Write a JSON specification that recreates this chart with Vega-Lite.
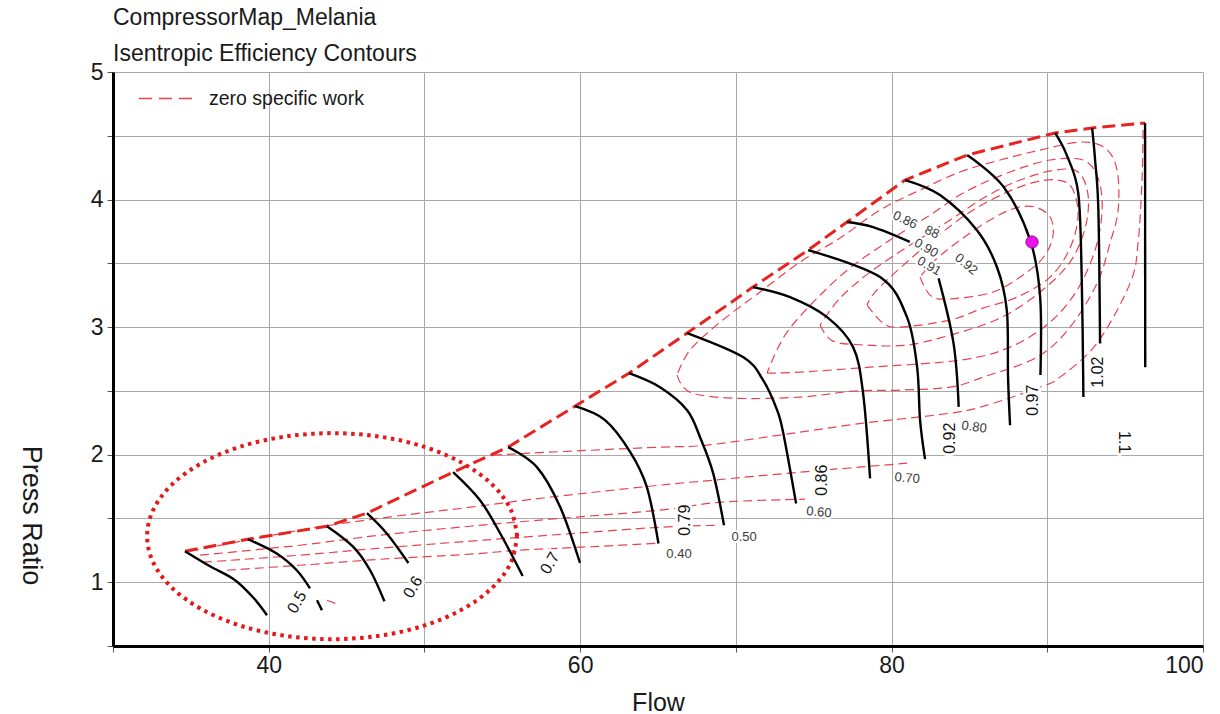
{
  "$schema": "https://vega.github.io/schema/vega-lite/v6.json",
  "width": 1090,
  "height": 574,
  "autosize": {"type": "none"},
  "padding": {"left": 113, "top": 72, "right": 17, "bottom": 68},
  "background": "white",
  "config": {"view": {"stroke": null}},
  "title": {
    "text": "CompressorMap_Melania",
    "subtitle": "Isentropic Efficiency Contours",
    "anchor": "start",
    "frame": "group",
    "font": "Liberation Sans",
    "fontSize": 23,
    "fontWeight": "normal",
    "color": "#1a1a1a",
    "subtitleFont": "Liberation Sans",
    "subtitleFontSize": 23,
    "subtitleColor": "#1a1a1a",
    "subtitlePadding": 13,
    "offset": -5
  },
  "datasets": {
    "surge": [
      {"i": 0, "x": 34.62, "y": 1.243}, {"i": 1, "x": 38.67, "y": 1.337}, {"i": 2, "x": 43.74, "y": 1.439},
      {"i": 3, "x": 46.31, "y": 1.541}, {"i": 4, "x": 51.84, "y": 1.863}, {"i": 5, "x": 55.37, "y": 2.059},
      {"i": 6, "x": 59.67, "y": 2.380}, {"i": 7, "x": 63.14, "y": 2.639}, {"i": 8, "x": 66.87, "y": 2.953},
      {"i": 9, "x": 71.10, "y": 3.314}, {"i": 10, "x": 74.64, "y": 3.604}, {"i": 11, "x": 77.14, "y": 3.824},
      {"i": 12, "x": 80.87, "y": 4.153}, {"i": 13, "x": 84.85, "y": 4.349}, {"i": 14, "x": 90.50, "y": 4.522},
      {"i": 15, "x": 92.88, "y": 4.561}, {"i": 16, "x": 96.28, "y": 4.600}
    ],
    "speed": [
      {"s": "A", "i": 0, "x": 34.62, "y": 1.243}, {"s": "A", "i": 1, "x": 36.23, "y": 1.125}, {"s": "A", "i": 2, "x": 37.80, "y": 1.020}, {"s": "A", "i": 3, "x": 38.99, "y": 0.882}, {"s": "A", "i": 4, "x": 39.89, "y": 0.741},
      {"s": "B", "i": 0, "x": 38.67, "y": 1.337}, {"s": "B", "i": 1, "x": 40.51, "y": 1.225}, {"s": "B", "i": 2, "x": 41.80, "y": 1.094}, {"s": "B", "i": 3, "x": 42.65, "y": 0.951},
      {"s": "S", "i": 0, "x": 43.10, "y": 0.859}, {"s": "S", "i": 1, "x": 43.42, "y": 0.780},
      {"s": "C", "i": 0, "x": 43.74, "y": 1.439}, {"s": "C", "i": 1, "x": 45.43, "y": 1.277}, {"s": "C", "i": 2, "x": 46.51, "y": 1.094}, {"s": "C", "i": 3, "x": 47.43, "y": 0.851},
      {"s": "D", "i": 0, "x": 46.31, "y": 1.541}, {"s": "D", "i": 1, "x": 47.58, "y": 1.382}, {"s": "D", "i": 2, "x": 48.97, "y": 1.151},
      {"s": "E", "i": 0, "x": 51.84, "y": 1.863}, {"s": "E", "i": 1, "x": 53.57, "y": 1.643}, {"s": "E", "i": 2, "x": 54.86, "y": 1.384}, {"s": "E", "i": 3, "x": 56.31, "y": 1.049},
      {"s": "F", "i": 0, "x": 55.37, "y": 2.059}, {"s": "F", "i": 1, "x": 57.21, "y": 1.904}, {"s": "F", "i": 2, "x": 58.71, "y": 1.591}, {"s": "F", "i": 3, "x": 59.99, "y": 1.151},
      {"s": "G", "i": 0, "x": 59.67, "y": 2.380}, {"s": "G", "i": 1, "x": 61.60, "y": 2.271}, {"s": "G", "i": 2, "x": 63.21, "y": 2.022}, {"s": "G", "i": 3, "x": 64.28, "y": 1.747}, {"s": "G", "i": 4, "x": 65.03, "y": 1.304},
      {"s": "H", "i": 0, "x": 63.14, "y": 2.639}, {"s": "H", "i": 1, "x": 65.13, "y": 2.529}, {"s": "H", "i": 2, "x": 66.87, "y": 2.349}, {"s": "H", "i": 3, "x": 67.70, "y": 2.137}, {"s": "H", "i": 4, "x": 68.54, "y": 1.855}, {"s": "H", "i": 5, "x": 69.24, "y": 1.447},
      {"s": "I", "i": 0, "x": 66.87, "y": 2.953}, {"s": "I", "i": 1, "x": 70.46, "y": 2.765}, {"s": "I", "i": 2, "x": 71.75, "y": 2.584}, {"s": "I", "i": 3, "x": 72.65, "y": 2.349}, {"s": "I", "i": 4, "x": 73.05, "y": 2.166}, {"s": "I", "i": 5, "x": 73.87, "y": 1.617},
      {"s": "J", "i": 0, "x": 71.10, "y": 3.314}, {"s": "J", "i": 1, "x": 73.48, "y": 3.235}, {"s": "J", "i": 2, "x": 75.86, "y": 3.078}, {"s": "J", "i": 3, "x": 77.53, "y": 2.843}, {"s": "J", "i": 4, "x": 78.17, "y": 2.482}, {"s": "J", "i": 5, "x": 78.62, "y": 1.814},
      {"s": "K", "i": 0, "x": 74.64, "y": 3.604}, {"s": "K", "i": 1, "x": 79.26, "y": 3.392}, {"s": "K", "i": 2, "x": 80.99, "y": 3.078}, {"s": "K", "i": 3, "x": 81.64, "y": 2.686}, {"s": "K", "i": 4, "x": 81.83, "y": 2.271}, {"s": "K", "i": 5, "x": 82.15, "y": 1.965},
      {"s": "L1", "i": 0, "x": 77.14, "y": 3.824}, {"s": "L1", "i": 1, "x": 78.81, "y": 3.784}, {"s": "L1", "i": 2, "x": 81.17, "y": 3.669},
      {"s": "L2", "i": 0, "x": 83.02, "y": 3.382}, {"s": "L2", "i": 1, "x": 83.98, "y": 2.872}, {"s": "L2", "i": 2, "x": 84.31, "y": 2.375},
      {"s": "M", "i": 0, "x": 80.87, "y": 4.153}, {"s": "M", "i": 1, "x": 83.11, "y": 4.035}, {"s": "M", "i": 2, "x": 85.47, "y": 3.761}, {"s": "M", "i": 3, "x": 86.76, "y": 3.473}, {"s": "M", "i": 4, "x": 87.40, "y": 3.133}, {"s": "M", "i": 5, "x": 87.48, "y": 2.608}, {"s": "M", "i": 6, "x": 87.61, "y": 2.231},
      {"s": "N", "i": 0, "x": 84.85, "y": 4.349}, {"s": "N", "i": 1, "x": 87.19, "y": 4.100}, {"s": "N", "i": 2, "x": 88.90, "y": 3.682}, {"s": "N", "i": 3, "x": 89.54, "y": 3.238}, {"s": "N", "i": 4, "x": 89.56, "y": 2.624},
      {"s": "O", "i": 0, "x": 90.50, "y": 4.522}, {"s": "O", "i": 1, "x": 91.25, "y": 4.348}, {"s": "O", "i": 2, "x": 91.99, "y": 4.049}, {"s": "O", "i": 3, "x": 92.21, "y": 3.394}, {"s": "O", "i": 4, "x": 92.32, "y": 2.452},
      {"s": "P", "i": 0, "x": 92.88, "y": 4.561}, {"s": "P", "i": 1, "x": 93.07, "y": 4.310}, {"s": "P", "i": 2, "x": 93.28, "y": 3.918}, {"s": "P", "i": 3, "x": 93.39, "y": 2.872},
      {"s": "Q", "i": 0, "x": 96.28, "y": 4.600}, {"s": "Q", "i": 1, "x": 96.29, "y": 2.686}
    ],
    "eff": [
      {"c": "E30", "i": 0, "x": 43.74, "y": 0.859}, {"c": "E30", "i": 1, "x": 44.58, "y": 0.820},
      {"c": "E40", "i": 0, "x": 37.32, "y": 1.094}, {"c": "E40", "i": 1, "x": 42.01, "y": 1.133}, {"c": "E40", "i": 2, "x": 47.15, "y": 1.180}, {"c": "E40", "i": 3, "x": 52.93, "y": 1.220}, {"c": "E40", "i": 4, "x": 56.14, "y": 1.251}, {"c": "E40", "i": 5, "x": 61.28, "y": 1.282}, {"c": "E40", "i": 6, "x": 65.13, "y": 1.306},
      {"c": "E50", "i": 0, "x": 35.78, "y": 1.157}, {"c": "E50", "i": 1, "x": 42.01, "y": 1.212}, {"c": "E50", "i": 2, "x": 47.15, "y": 1.267}, {"c": "E50", "i": 3, "x": 52.93, "y": 1.322}, {"c": "E50", "i": 4, "x": 58.07, "y": 1.369}, {"c": "E50", "i": 5, "x": 65.13, "y": 1.431}, {"c": "E50", "i": 6, "x": 68.99, "y": 1.447},
      {"c": "E60", "i": 0, "x": 35.59, "y": 1.212}, {"c": "E60", "i": 1, "x": 42.01, "y": 1.290}, {"c": "E60", "i": 2, "x": 47.15, "y": 1.369}, {"c": "E60", "i": 3, "x": 52.93, "y": 1.439}, {"c": "E60", "i": 4, "x": 58.07, "y": 1.494}, {"c": "E60", "i": 5, "x": 65.13, "y": 1.565}, {"c": "E60", "i": 6, "x": 68.99, "y": 1.627}, {"c": "E60", "i": 7, "x": 74.44, "y": 1.651},
      {"c": "E70", "i": 0, "x": 34.95, "y": 1.243}, {"c": "E70", "i": 1, "x": 42.01, "y": 1.408}, {"c": "E70", "i": 2, "x": 47.15, "y": 1.502}, {"c": "E70", "i": 3, "x": 52.93, "y": 1.588}, {"c": "E70", "i": 4, "x": 58.07, "y": 1.667}, {"c": "E70", "i": 5, "x": 65.13, "y": 1.761}, {"c": "E70", "i": 6, "x": 68.54, "y": 1.800}, {"c": "E70", "i": 7, "x": 74.12, "y": 1.863}, {"c": "E70", "i": 8, "x": 81.00, "y": 1.933},
      {"c": "E80", "i": 0, "x": 54.41, "y": 1.996}, {"c": "E80", "i": 1, "x": 58.07, "y": 2.020}, {"c": "E80", "i": 2, "x": 65.13, "y": 2.059}, {"c": "E80", "i": 3, "x": 68.15, "y": 2.075}, {"c": "E80", "i": 4, "x": 74.12, "y": 2.176}, {"c": "E80", "i": 5, "x": 78.17, "y": 2.247}, {"c": "E80", "i": 6, "x": 83.76, "y": 2.325}, {"c": "E80", "i": 7, "x": 86.13, "y": 2.388}, {"c": "E80", "i": 8, "x": 89.54, "y": 2.529}, {"c": "E80", "i": 9, "x": 90.82, "y": 2.608}, {"c": "E80", "i": 10, "x": 93.20, "y": 2.875}, {"c": "E80", "i": 11, "x": 95.32, "y": 3.345}, {"c": "E80", "i": 12, "x": 95.83, "y": 3.659}, {"c": "E80", "i": 13, "x": 96.09, "y": 4.176}, {"c": "E80", "i": 14, "x": 96.15, "y": 4.584},
      {"c": "E86", "i": 0, "x": 66.22, "y": 2.624}, {"c": "E86", "i": 1, "x": 67.06, "y": 2.490}, {"c": "E86", "i": 2, "x": 69.82, "y": 2.443}, {"c": "E86", "i": 3, "x": 74.12, "y": 2.451}, {"c": "E86", "i": 4, "x": 77.53, "y": 2.498}, {"c": "E86", "i": 5, "x": 80.55, "y": 2.506}, {"c": "E86", "i": 6, "x": 83.76, "y": 2.529}, {"c": "E86", "i": 7, "x": 85.88, "y": 2.608}, {"c": "E86", "i": 8, "x": 89.35, "y": 2.765}, {"c": "E86", "i": 9, "x": 91.46, "y": 3.000}, {"c": "E86", "i": 10, "x": 93.20, "y": 3.345}, {"c": "E86", "i": 11, "x": 94.03, "y": 3.659}, {"c": "E86", "i": 12, "x": 94.55, "y": 3.918}, {"c": "E86", "i": 13, "x": 94.48, "y": 4.231}, {"c": "E86", "i": 14, "x": 93.71, "y": 4.404}, {"c": "E86", "i": 15, "x": 92.11, "y": 4.451}, {"c": "E86", "i": 16, "x": 89.54, "y": 4.388}, {"c": "E86", "i": 17, "x": 86.97, "y": 4.310}, {"c": "E86", "i": 18, "x": 84.40, "y": 4.216}, {"c": "E86", "i": 19, "x": 81.83, "y": 4.075}, {"c": "E86", "i": 20, "x": 79.26, "y": 3.918}, {"c": "E86", "i": 21, "x": 76.69, "y": 3.698}, {"c": "E86", "i": 22, "x": 74.12, "y": 3.510}, {"c": "E86", "i": 23, "x": 71.55, "y": 3.275}, {"c": "E86", "i": 24, "x": 68.99, "y": 3.039}, {"c": "E86", "i": 25, "x": 67.06, "y": 2.820}, {"c": "E86", "i": 26, "x": 66.22, "y": 2.624},
      {"c": "E88", "i": 0, "x": 72.00, "y": 2.639}, {"c": "E88", "i": 1, "x": 74.12, "y": 2.647}, {"c": "E88", "i": 2, "x": 78.62, "y": 2.686}, {"c": "E88", "i": 3, "x": 84.40, "y": 2.741}, {"c": "E88", "i": 4, "x": 87.61, "y": 2.843}, {"c": "E88", "i": 5, "x": 90.18, "y": 3.039}, {"c": "E88", "i": 6, "x": 91.91, "y": 3.290}, {"c": "E88", "i": 7, "x": 93.07, "y": 3.604}, {"c": "E88", "i": 8, "x": 93.52, "y": 3.918}, {"c": "E88", "i": 9, "x": 93.26, "y": 4.169}, {"c": "E88", "i": 10, "x": 92.30, "y": 4.310}, {"c": "E88", "i": 11, "x": 90.18, "y": 4.310}, {"c": "E88", "i": 12, "x": 87.61, "y": 4.216}, {"c": "E88", "i": 13, "x": 84.72, "y": 4.059}, {"c": "E88", "i": 14, "x": 82.47, "y": 3.878}, {"c": "E88", "i": 15, "x": 79.90, "y": 3.682}, {"c": "E88", "i": 16, "x": 77.33, "y": 3.463}, {"c": "E88", "i": 17, "x": 75.09, "y": 3.211}, {"c": "E88", "i": 18, "x": 73.16, "y": 2.937}, {"c": "E88", "i": 19, "x": 72.00, "y": 2.639},
      {"c": "E90", "i": 0, "x": 75.41, "y": 3.016}, {"c": "E90", "i": 1, "x": 76.24, "y": 2.890}, {"c": "E90", "i": 2, "x": 78.43, "y": 2.859}, {"c": "E90", "i": 3, "x": 81.00, "y": 2.859}, {"c": "E90", "i": 4, "x": 83.76, "y": 2.937}, {"c": "E90", "i": 5, "x": 86.97, "y": 3.071}, {"c": "E90", "i": 6, "x": 89.54, "y": 3.275}, {"c": "E90", "i": 7, "x": 91.46, "y": 3.510}, {"c": "E90", "i": 8, "x": 92.43, "y": 3.776}, {"c": "E90", "i": 9, "x": 92.62, "y": 4.035}, {"c": "E90", "i": 10, "x": 91.98, "y": 4.216}, {"c": "E90", "i": 11, "x": 90.50, "y": 4.231}, {"c": "E90", "i": 12, "x": 88.25, "y": 4.153}, {"c": "E90", "i": 13, "x": 86.01, "y": 4.020}, {"c": "E90", "i": 14, "x": 83.76, "y": 3.839}, {"c": "E90", "i": 15, "x": 81.19, "y": 3.643}, {"c": "E90", "i": 16, "x": 78.62, "y": 3.431}, {"c": "E90", "i": 17, "x": 76.69, "y": 3.227}, {"c": "E90", "i": 18, "x": 75.41, "y": 3.016},
      {"c": "E91", "i": 0, "x": 78.43, "y": 3.173}, {"c": "E91", "i": 1, "x": 79.45, "y": 3.031}, {"c": "E91", "i": 2, "x": 80.55, "y": 3.000}, {"c": "E91", "i": 3, "x": 83.76, "y": 3.055}, {"c": "E91", "i": 4, "x": 85.88, "y": 3.149}, {"c": "E91", "i": 5, "x": 88.06, "y": 3.235}, {"c": "E91", "i": 6, "x": 90.18, "y": 3.392}, {"c": "E91", "i": 7, "x": 91.46, "y": 3.620}, {"c": "E91", "i": 8, "x": 91.98, "y": 3.878}, {"c": "E91", "i": 9, "x": 91.59, "y": 4.090}, {"c": "E91", "i": 10, "x": 90.69, "y": 4.153}, {"c": "E91", "i": 11, "x": 89.22, "y": 4.137}, {"c": "E91", "i": 12, "x": 87.29, "y": 4.051}, {"c": "E91", "i": 13, "x": 85.04, "y": 3.902}, {"c": "E91", "i": 14, "x": 82.79, "y": 3.698}, {"c": "E91", "i": 15, "x": 80.55, "y": 3.463}, {"c": "E91", "i": 16, "x": 78.94, "y": 3.275}, {"c": "E91", "i": 17, "x": 78.43, "y": 3.173},
      {"c": "E92", "i": 0, "x": 81.83, "y": 3.392}, {"c": "E92", "i": 1, "x": 82.47, "y": 3.251}, {"c": "E92", "i": 2, "x": 83.56, "y": 3.220}, {"c": "E92", "i": 3, "x": 86.52, "y": 3.275}, {"c": "E92", "i": 4, "x": 88.70, "y": 3.431}, {"c": "E92", "i": 5, "x": 89.86, "y": 3.565}, {"c": "E92", "i": 6, "x": 90.37, "y": 3.722}, {"c": "E92", "i": 7, "x": 90.18, "y": 3.863}, {"c": "E92", "i": 8, "x": 89.22, "y": 3.941}, {"c": "E92", "i": 9, "x": 87.93, "y": 3.933}, {"c": "E92", "i": 10, "x": 86.33, "y": 3.839}, {"c": "E92", "i": 11, "x": 84.40, "y": 3.682}, {"c": "E92", "i": 12, "x": 82.79, "y": 3.525}, {"c": "E92", "i": 13, "x": 81.83, "y": 3.392}
    ],
    "ellipse": [
      {"i": 0, "x": 55.95, "y": 1.361}, {"i": 1, "x": 55.545, "y": 1.570}, {"i": 2, "x": 54.358, "y": 1.765}, {"i": 3, "x": 52.470, "y": 1.932},
      {"i": 4, "x": 50.01, "y": 2.061}, {"i": 5, "x": 47.145, "y": 2.141}, {"i": 6, "x": 44.07, "y": 2.169}, {"i": 7, "x": 40.995, "y": 2.141},
      {"i": 8, "x": 38.13, "y": 2.061}, {"i": 9, "x": 35.67, "y": 1.932}, {"i": 10, "x": 33.782, "y": 1.765}, {"i": 11, "x": 32.595, "y": 1.570},
      {"i": 12, "x": 32.19, "y": 1.361}, {"i": 13, "x": 32.595, "y": 1.152}, {"i": 14, "x": 33.782, "y": 0.957}, {"i": 15, "x": 35.67, "y": 0.790},
      {"i": 16, "x": 38.13, "y": 0.661}, {"i": 17, "x": 40.995, "y": 0.581}, {"i": 18, "x": 44.07, "y": 0.553}, {"i": 19, "x": 47.145, "y": 0.581},
      {"i": 20, "x": 50.01, "y": 0.661}, {"i": 21, "x": 52.470, "y": 0.790}, {"i": 22, "x": 54.358, "y": 0.957}, {"i": 23, "x": 55.545, "y": 1.152},
      {"i": 24, "x": 55.95, "y": 1.361}
    ],
    "slabels": [
      {"t": "0.5", "x": 41.82, "y": 0.843, "a": -60}, {"t": "0.6", "x": 49.27, "y": 0.961, "a": -60},
      {"t": "0.7", "x": 58.07, "y": 1.149, "a": -60}, {"t": "0.79", "x": 66.74, "y": 1.486, "a": -90},
      {"t": "0.86", "x": 75.54, "y": 1.800, "a": -90}, {"t": "0.92", "x": 83.76, "y": 2.129, "a": -90},
      {"t": "0.97", "x": 89.09, "y": 2.427, "a": -90}, {"t": "1.02", "x": 93.26, "y": 2.647, "a": -90},
      {"t": "1.1", "x": 94.93, "y": 2.098, "a": 90}
    ],
    "elabels": [
      {"t": "0.40", "x": 66.35, "y": 1.220, "a": 0}, {"t": "0.50", "x": 70.53, "y": 1.353, "a": 0},
      {"t": "0.60", "x": 75.34, "y": 1.549, "a": 5}, {"t": "0.70", "x": 81.00, "y": 1.816, "a": 5},
      {"t": "0.80", "x": 85.30, "y": 2.216, "a": 8}, {"t": "0.91", "x": 82.41, "y": 3.478, "a": 30},
      {"t": "0.90", "x": 82.22, "y": 3.620, "a": 30}, {"t": "88", "x": 82.60, "y": 3.745, "a": 25},
      {"t": "0.86", "x": 80.87, "y": 3.839, "a": 25}, {"t": "0.92", "x": 84.79, "y": 3.494, "a": 40}
    ],
    "op": [{"x": 89.02, "y": 3.667}]
  },
  "encoding": {
    "x": {
      "field": "x", "type": "quantitative",
      "scale": {"domain": [30, 100], "nice": false, "zero": false},
      "axis": {
        "values": [30, 40, 50, 60, 70, 80, 90, 100],
        "labelExpr": "datum.value % 20 == 0 && datum.value > 30 ? format(datum.value, 'd') : ''",
        "grid": true, "gridColor": "#a8a8a8", "gridWidth": 1,
        "domainColor": "#000000", "domainWidth": 3,
        "tickColor": "#555555", "tickSize": 6,
        "labelFont": "Liberation Sans", "labelFontSize": 23, "labelColor": "#1a1a1a", "labelPadding": 2,
        "title": "Flow", "titleFont": "Liberation Sans", "titleFontSize": 25, "titleFontWeight": "normal",
        "titleColor": "#1a1a1a", "titlePadding": 13
      }
    },
    "y": {
      "field": "y", "type": "quantitative",
      "scale": {"domain": [0.5, 5], "nice": false, "zero": false},
      "axis": {
        "values": [0.5, 1, 1.5, 2, 2.5, 3, 3.5, 4, 4.5, 5],
        "labelExpr": "datum.value % 1 == 0 ? format(datum.value, 'd') : ''",
        "grid": true, "gridColor": "#a8a8a8", "gridWidth": 1,
        "domainColor": "#000000", "domainWidth": 3,
        "tickColor": "#555555", "tickSize": 6,
        "labelFont": "Liberation Sans", "labelFontSize": 23, "labelColor": "#1a1a1a", "labelPadding": 4,
        "title": "Press Ratio", "titleFont": "Liberation Sans", "titleFontSize": 27, "titleFontWeight": "normal",
        "titleColor": "#1a1a1a", "titleAngle": 90, "titleAlign": "center", "titleBaseline": "middle",
        "titleX": -83, "titleY": 443
      }
    }
  },
  "layer": [
    {
      "data": {"name": "eff"},
      "mark": {"type": "line", "strokeWidth": 1.2, "strokeDash": [9, 5], "interpolate": "cardinal"},
      "encoding": {
        "detail": {"field": "c"},
        "order": {"field": "i", "type": "quantitative"},
        "color": {
          "datum": "zero specific work",
          "scale": {"range": ["#e9424f"]},
          "legend": {
            "orient": "none", "legendX": 25, "legendY": -3, "title": null, "padding": 0,
            "symbolType": "stroke", "symbolSize": 3249, "symbolStrokeWidth": 1.3, "symbolDash": [13, 7],
            "labelFont": "Liberation Sans", "labelFontSize": 19.5, "labelColor": "#1a1a1a", "labelOffset": 12
          }
        }
      }
    },
    {
      "data": {"name": "surge"},
      "mark": {"type": "line", "color": "#e8231f", "strokeWidth": 3, "strokeDash": [13, 6]},
      "encoding": {"order": {"field": "i", "type": "quantitative"}}
    },
    {
      "data": {"name": "ellipse"},
      "mark": {"type": "line", "color": "#e5171b", "strokeWidth": 4, "strokeDash": [3.5, 4.5], "strokeCap": "butt", "interpolate": "cardinal"},
      "encoding": {"order": {"field": "i", "type": "quantitative"}}
    },
    {
      "data": {"name": "speed"},
      "mark": {"type": "line", "color": "#000000", "strokeWidth": 2.4, "interpolate": "cardinal"},
      "encoding": {
        "detail": {"field": "s"},
        "order": {"field": "i", "type": "quantitative"}
      }
    },
    {
      "data": {"name": "slabels"},
      "mark": {"type": "text", "font": "Liberation Sans", "fontSize": 16, "stroke": "white", "strokeWidth": 6, "strokeJoin": "round", "fill": "white", "align": "center", "baseline": "middle"},
      "encoding": {"text": {"field": "t"}, "angle": {"field": "a", "type": "quantitative", "scale": null}}
    },
    {
      "data": {"name": "slabels"},
      "mark": {"type": "text", "font": "Liberation Sans", "fontSize": 16, "color": "#111111", "align": "center", "baseline": "middle"},
      "encoding": {"text": {"field": "t"}, "angle": {"field": "a", "type": "quantitative", "scale": null}}
    },
    {
      "data": {"name": "elabels"},
      "mark": {"type": "text", "font": "Liberation Sans", "fontSize": 13, "stroke": "white", "strokeWidth": 4, "strokeJoin": "round", "fill": "white", "align": "center", "baseline": "middle"},
      "encoding": {"text": {"field": "t"}, "angle": {"field": "a", "type": "quantitative", "scale": null}}
    },
    {
      "data": {"name": "elabels"},
      "mark": {"type": "text", "font": "Liberation Sans", "fontSize": 13, "color": "#3a3a3a", "align": "center", "baseline": "middle"},
      "encoding": {"text": {"field": "t"}, "angle": {"field": "a", "type": "quantitative", "scale": null}}
    },
    {
      "data": {"name": "op"},
      "mark": {"type": "point", "filled": true, "size": 150, "color": "#ee11ee", "stroke": "#8a0a8a", "strokeWidth": 1, "opacity": 1}
    }
  ]
}
